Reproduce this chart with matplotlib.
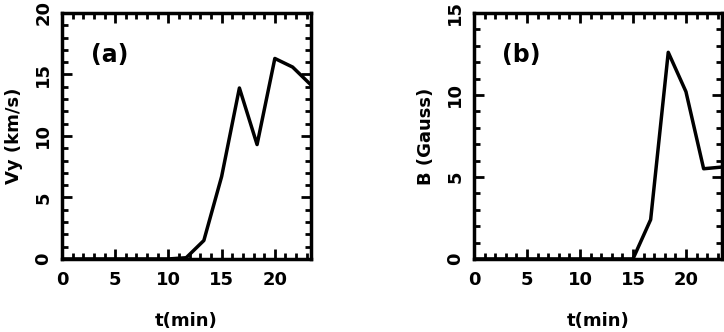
import matplotlib
matplotlib.use('Agg')
import matplotlib.pyplot as plt
from matplotlib.ticker import MultipleLocator

# panel (a): Vy vs time
t_a = [0.0, 1.67, 3.33, 5.0, 6.67, 8.33, 10.0, 11.67, 13.33, 15.0, 16.67, 18.33, 20.0, 21.67, 23.33]
vy = [0.0, 0.0, 0.0, 0.0, 0.0, 0.0, 0.0, 0.1, 1.5, 6.7, 13.9, 9.3, 16.3, 15.6, 14.2]

# panel (b): B vs time
t_b = [0.0, 1.67, 3.33, 5.0, 6.67, 8.33, 10.0, 11.67, 13.33, 15.0, 16.67, 18.33, 20.0, 21.67, 23.33]
bfield = [0.0, 0.0, 0.0, 0.0, 0.0, 0.0, 0.0, 0.0, 0.0, 0.0, 2.4, 12.6, 10.2, 5.5, 5.6]

plt.rcParams['font.family'] = ['DejaVu Sans']
plt.rcParams['font.weight'] = 'bold'


def style_axis(ax, ymax, ylabel, tag):
    ax.set_xlim(0, 23.4)
    ax.set_ylim(0, ymax)
    ax.xaxis.set_major_locator(MultipleLocator(5))
    ax.xaxis.set_minor_locator(MultipleLocator(1))
    ax.yaxis.set_major_locator(MultipleLocator(5))
    ax.yaxis.set_minor_locator(MultipleLocator(1))
    ax.tick_params(which='both', direction='in', top=True, right=True, width=2)
    ax.tick_params(which='major', length=7)
    ax.tick_params(which='minor', length=4)
    ax.tick_params(axis='x', labelsize=13, pad=9)
    ax.tick_params(axis='y', labelsize=13, pad=7, labelrotation=90)
    for lbl in ax.get_yticklabels():
        lbl.set_verticalalignment('center')
    for s in ax.spines.values():
        s.set_linewidth(2.5)
    ax.set_xlabel('t(min)', fontsize=13, fontweight='bold', labelpad=16)
    ax.set_ylabel(ylabel, fontsize=13, fontweight='bold', labelpad=8)
    ax.text(0.19, 0.83, tag, transform=ax.transAxes, fontsize=17,
            ha='center', va='center')


fig = plt.figure(figsize=(7.24, 3.32), dpi=100)
ax1 = fig.add_axes([0.0856, 0.22, 0.344, 0.741])
ax2 = fig.add_axes([0.6547, 0.22, 0.3425, 0.741])

ax1.plot(t_a, vy, color='black', lw=2.5, clip_on=True)
style_axis(ax1, 20, 'Vy (km/s)', '(a)')

ax2.plot(t_b, bfield, color='black', lw=2.5, clip_on=True)
style_axis(ax2, 15, 'B (Gauss)', '(b)')

fig.savefig('out.png', dpi=100)
